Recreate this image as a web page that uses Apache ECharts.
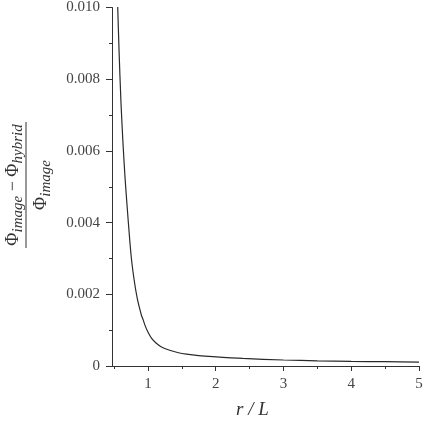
<!DOCTYPE html>
<html>
<head>
<meta charset="utf-8">
<script src="https://cdn.jsdelivr.net/npm/echarts@6/dist/echarts.min.js"></script>
<style>html,body{margin:0;padding:0;background:#fff}#c{width:431px;height:424px}</style>
</head>
<body>
<div id="c"></div>
<script>
const rValues = [0.54, 0.553, 0.575, 0.601, 0.63, 0.66, 0.685, 0.709, 0.735, 0.759, 0.79, 0.82, 0.848, 0.88, 0.905, 0.931, 0.96, 1.0, 1.055, 1.12, 1.2, 1.32, 1.45, 1.57, 1.75, 1.96, 2.4, 3.0, 3.5, 4.0, 4.5, 5.0];
const diffValues = [0.0109, 0.0101, 0.00875, 0.00741, 0.00629, 0.00532, 0.00466, 0.00406, 0.00344, 0.00295, 0.00249, 0.00212, 0.00184, 0.00159, 0.00141, 0.00128, 0.00112, 0.00095, 0.00077, 0.00064, 0.00053, 0.00044, 0.00037, 0.00033, 0.00029, 0.00026, 0.00021, 0.000167, 0.000145, 0.00013, 0.00012, 0.00011];
const xMajorTicks = [1, 2, 3, 4, 5];
const xMinorTicks = [0.5, 1.5, 2.5, 3.5, 4.5];
const yTickLabels = ['0', '0.002', '0.004', '0.006', '0.008', '0.010'];

const FONT = '"Liberation Serif", serif';
const chart = echarts.init(document.getElementById('c'), null, {renderer: 'canvas'});
const data = rValues.map((r, i) => [r, diffValues[i]]);

chart.setOption({
  animation: false,
  backgroundColor: '#fff',
  grid: {left: 112, right: 12, top: 7, bottom: 58},
  xAxis: [{
    type: 'value', min: 0.47, max: 5,
    axisLine: {lineStyle: {color: '#333', width: 1}},
    axisTick: {show: true, inside: false, length: 5, customValues: xMajorTicks, lineStyle: {color: '#333'}},
    axisLabel: {customValues: xMajorTicks, margin: 11, color: '#444', fontFamily: FONT, fontSize: 15},
    splitLine: {show: false}
  }, {
    type: 'value', min: 0.47, max: 5, position: 'bottom',
    axisLine: {show: false},
    axisTick: {show: true, length: 3, customValues: xMinorTicks, lineStyle: {color: '#333'}},
    axisLabel: {show: false},
    splitLine: {show: false}
  }],
  yAxis: {
    type: 'value', min: 0, max: 0.010, interval: 0.002,
    axisLine: {show: true, lineStyle: {color: '#333', width: 1}},
    axisTick: {show: true, length: 6, lineStyle: {color: '#333'}},
    minorTick: {show: true, splitNumber: 2, length: 3, lineStyle: {color: '#333'}},
    axisLabel: {margin: 12, color: '#444', fontFamily: FONT, fontSize: 15,
      formatter: (v) => yTickLabels[Math.round(v / 0.002)]},
    splitLine: {show: false}
  },
  series: [{
    type: 'line', data: data, xAxisIndex: 0, showSymbol: false, smooth: 0.25, clip: true,
    lineStyle: {color: '#2a2a2a', width: 1.2}
  }],
  graphic: [
    {type: 'text', left: 236, top: 400,
      style: {text: 'r / L', fontFamily: FONT, fontStyle: 'italic', fontSize: 19, fill: '#333'}},
    {type: 'group', x: 26, y: 185, rotation: Math.PI / 2, children: [
      {type: 'line', shape: {x1: -63, y1: 0, x2: 63, y2: 0}, style: {stroke: '#333', lineWidth: 1}},
      {type: 'text', x: 0, y: -13, style: {
        text: '{m|Φ}{s|image}{m| − Φ}{s|hybrid}', align: 'center', verticalAlign: 'middle',
        rich: {
          m: {fontFamily: FONT, fontSize: 18, fill: '#333', lineHeight: 20},
          s: {fontFamily: FONT, fontStyle: 'italic', fontSize: 15, fill: '#333', lineHeight: 15, padding: [10, 0, 0, 0]}
        }}},
      {type: 'text', x: 0, y: 15, style: {
        text: '{m|Φ}{s|image}', align: 'center', verticalAlign: 'middle',
        rich: {
          m: {fontFamily: FONT, fontSize: 18, fill: '#333', lineHeight: 20},
          s: {fontFamily: FONT, fontStyle: 'italic', fontSize: 15, fill: '#333', lineHeight: 15, padding: [10, 0, 0, 0]}
        }}}
    ]}
  ]
});
</script>
</body>
</html>
